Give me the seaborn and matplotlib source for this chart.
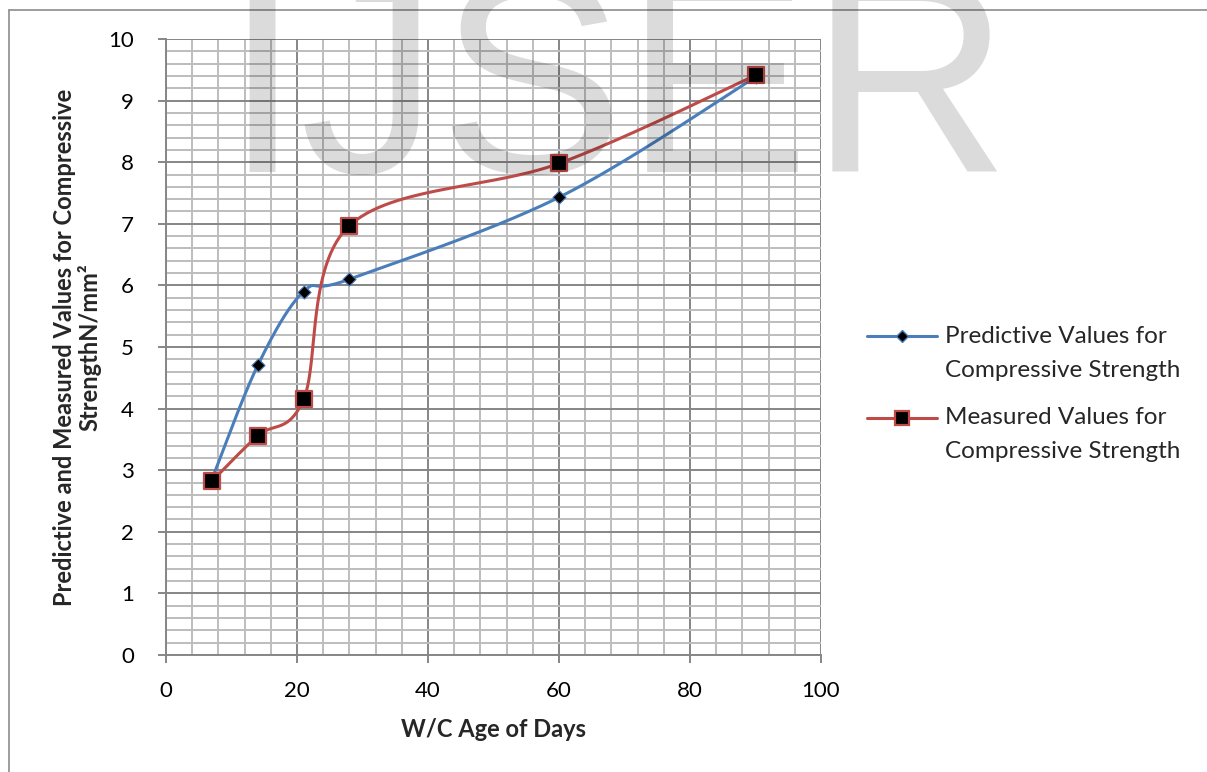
import numpy as np
import pandas as pd
import matplotlib
matplotlib.use("Agg")
import matplotlib.pyplot as plt
from matplotlib.lines import Line2D
from matplotlib.ticker import MultipleLocator
from matplotlib.legend_handler import HandlerLine2D
import seaborn as sns

# ---- data ----
days = [7, 14, 21, 28, 60, 90]
predictive = [2.85, 4.70, 5.90, 6.10, 7.43, 9.38]
measured = [2.82, 3.56, 4.15, 6.97, 7.98, 9.41]
series_names = ["Predictive Values for\nCompressive Strength",
                "Measured Values for\nCompressive Strength"]
x_ticks = [0, 20, 40, 60, 80, 100]
y_ticks = list(range(0, 11))

sns.set_theme(style="white")
FONT = ["Lato", "DejaVu Sans"]
plt.rcParams["font.family"] = FONT


def smooth(xs, ys, n=60):
    """Excel-like smoothed line: Catmull-Rom Bezier segments."""
    P = np.column_stack([xs, ys]).astype(float)
    out = []
    m = len(P)
    t = np.linspace(0, 1, n)[:, None]
    for i in range(m - 1):
        p0 = P[i - 1] if i > 0 else P[i]
        p1, p2 = P[i], P[i + 1]
        p3 = P[i + 2] if i + 2 < m else P[i + 1]
        c1 = p1 + (p2 - p0) / 6.0
        c2 = p2 - (p3 - p1) / 6.0
        seg = ((1 - t) ** 3) * p1 + 3 * ((1 - t) ** 2) * t * c1 + 3 * (1 - t) * t ** 2 * c2 + t ** 3 * p2
        out.append(seg if i == 0 else seg[1:])
    S = np.vstack(out)
    return S[:, 0], S[:, 1]


class ShiftedLineHandler(HandlerLine2D):
    """Legend handle aligned with the first line of a two-line label."""
    def __init__(self, dy, **kw):
        super().__init__(**kw)
        self.dy = dy

    def create_artists(self, legend, orig_handle, xdescent, ydescent, width, height, fontsize, trans):
        arts = super().create_artists(legend, orig_handle, xdescent, ydescent, width, height, fontsize, trans)
        for a in arts:
            a.set_ydata(np.asarray(a.get_ydata(), dtype=float) + self.dy)
        return arts


fig = plt.figure(figsize=(12.07, 7.72), dpi=100)
ax = fig.add_axes([166 / 1207, 1 - 655 / 772, (821 - 166) / 1207, (655 - 39) / 772])

blue = "#4A7EBB"
red = "#BE4B48"

for ys, col in [(predictive, blue), (measured, red)]:
    sx, sy = smooth(days, ys)
    df = pd.DataFrame({"x": sx, "y": sy})
    sns.lineplot(data=df, x="x", y="y", sort=False, estimator=None, color=col,
                 linewidth=2.2, ax=ax, zorder=3, legend=False)

dfp = pd.DataFrame({"x": days, "y": predictive})
dfm = pd.DataFrame({"x": days, "y": measured})
sns.scatterplot(data=dfp, x="x", y="y", marker="D", s=45, color="black",
                edgecolor=blue, linewidth=0.8, ax=ax, zorder=4, legend=False)
sns.scatterplot(data=dfm, x="x", y="y", marker="s", s=130, color="black",
                edgecolor=red, linewidth=1.6, ax=ax, zorder=4, legend=False)

ax.set_xlim(0, 100)
ax.set_ylim(0, 10)
ax.set_xticks(x_ticks)
ax.set_yticks(y_ticks)
ax.xaxis.set_minor_locator(MultipleLocator(4))
ax.yaxis.set_minor_locator(MultipleLocator(0.2))
ax.grid(which="major", color="#868686", linewidth=1.4, zorder=1)
ax.grid(which="minor", color="#BDBDBD", linewidth=1.4, zorder=1)
ax.set_axisbelow(True)
for s in ["top", "right"]:
    ax.spines[s].set_visible(False)
for s in ["left", "bottom"]:
    ax.spines[s].set_color("#868686")
    ax.spines[s].set_linewidth(1.4)
ax.tick_params(which="major", direction="out", length=6, width=1.4, color="#868686",
               labelsize=16, labelcolor="black", left=True, bottom=True)
ax.tick_params(axis="x", which="major", pad=13)
ax.tick_params(axis="y", which="major", pad=17)
ax.tick_params(which="minor", length=0)

ax.set_xlabel("W/C Age of Days", fontsize=17, fontweight="bold", labelpad=12)
ax.set_ylabel("Predictive and Measured Values for Compressive\nStrengthN/mm²",
              fontsize=17, fontweight="bold", labelpad=5, linespacing=1.05)

handles = [
    Line2D([], [], color=blue, linewidth=2.2, marker="D", markersize=6.5,
           markerfacecolor="black", markeredgecolor=blue),
    Line2D([], [], color=red, linewidth=2.2, marker="s", markersize=10,
           markerfacecolor="black", markeredgecolor=red, markeredgewidth=1.6),
]
leg = fig.legend(handles, series_names, loc="center left", bbox_to_anchor=(867 / 1207, 1 - 394 / 772),
                 frameon=False, fontsize=17.5, handlelength=2.9, handletextpad=0.3,
                 labelspacing=1.1, borderpad=0, borderaxespad=0, handleheight=1.0,
                 handler_map={Line2D: ShiftedLineHandler(dy=11.5)})
for txt in leg.get_texts():
    txt.set_linespacing(1.75)

# outer chart border
fig.add_artist(Line2D([8.5 / 1207, 8.5 / 1207], [0, 1 - 10 / 772], color="#8C8C8C", linewidth=1.2))
fig.add_artist(Line2D([8.5 / 1207, 1.0], [1 - 10 / 772, 1 - 10 / 772], color="#8C8C8C", linewidth=1.2))

# watermark
fig.text(617 / 1207, 1 - 172 / 772, "IJSER", fontsize=200, family=["Liberation Sans", "DejaVu Sans"],
         color="black", alpha=0.14, ha="center", va="baseline", zorder=10)

fig.savefig("out.png", dpi=100)
